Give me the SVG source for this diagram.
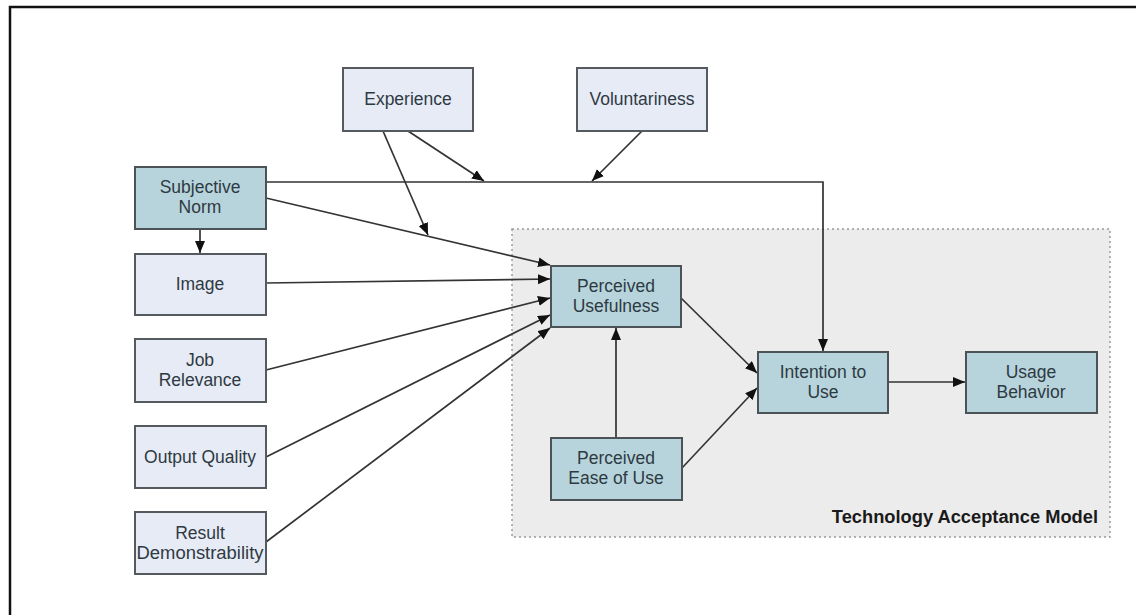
<svg xmlns="http://www.w3.org/2000/svg" width="1136" height="615" viewBox="0 0 1136 615">
  <style>
    .ext rect { fill: #e7ebf6; stroke: #555a5e; stroke-width: 2; }
    .tam rect { fill: #b7d4dc; stroke: #4c5357; stroke-width: 2; }
    text { font-family: "Liberation Sans", Arial, sans-serif; font-size: 17.5px; fill: #2e3a42; text-anchor: middle; }
    .conn line, .conn path { stroke: #333333; stroke-width: 1.7; fill: none; }
    .title { font-weight: bold; font-size: 18.3px; fill: #1a1a1a; text-anchor: end; }
  </style>
  <defs>
    <marker id="arrow" markerUnits="userSpaceOnUse" markerWidth="14" markerHeight="12" refX="12" refY="5" orient="auto">
      <path d="M0,0 L12,5 L0,10 Z" fill="#111"/>
    </marker>
  </defs>

  <rect width="1136" height="615" fill="#ffffff"/>
  <!-- outer frame -->
  <path d="M10,615 V7 H1136" fill="none" stroke="#111" stroke-width="2.5"/>

  <!-- Technology Acceptance Model boundary -->
  <g id="tam-boundary">
    <rect x="512" y="229" width="598" height="308" fill="#ececec" stroke="#9a9a9a" stroke-width="1.5" stroke-dasharray="2,3"/>
    <text class="title" x="1098" y="523">Technology Acceptance Model</text>
  </g>

  <!-- connectors -->
  <g class="conn">
    <line x1="200" y1="229" x2="200" y2="253" marker-end="url(#arrow)"/>
    <path d="M266,182 H823 V351" marker-end="url(#arrow)"/>
    <line x1="408" y1="131" x2="484" y2="181" marker-end="url(#arrow)"/>
    <line x1="642" y1="131" x2="592" y2="181" marker-end="url(#arrow)"/>
    <line x1="383" y1="131" x2="428" y2="235" marker-end="url(#arrow)"/>
    <line x1="266" y1="198" x2="550" y2="265" marker-end="url(#arrow)"/>
    <line x1="266" y1="283" x2="550" y2="279" marker-end="url(#arrow)"/>
    <line x1="266" y1="370" x2="550" y2="298" marker-end="url(#arrow)"/>
    <line x1="266" y1="457" x2="550" y2="315" marker-end="url(#arrow)"/>
    <line x1="266" y1="542" x2="550" y2="328" marker-end="url(#arrow)"/>
    <line x1="616" y1="438" x2="616" y2="328" marker-end="url(#arrow)"/>
    <line x1="681" y1="298" x2="757" y2="373" marker-end="url(#arrow)"/>
    <line x1="682" y1="468" x2="757" y2="388" marker-end="url(#arrow)"/>
    <line x1="888" y1="382" x2="965" y2="382" marker-end="url(#arrow)"/>
  </g>

  <!-- external variables -->
  <g id="experience" class="ext">
    <rect x="343" y="68" width="130" height="63"/>
    <text x="408" y="105">Experience</text>
  </g>
  <g id="voluntariness" class="ext">
    <rect x="577" y="68" width="130" height="63"/>
    <text x="642" y="105">Voluntariness</text>
  </g>
  <g id="subjective-norm" class="tam">
    <rect x="135" y="167" width="131" height="62"/>
    <text x="200" y="193">Subjective</text>
    <text x="200" y="213">Norm</text>
  </g>
  <g id="image" class="ext">
    <rect x="135" y="254" width="131" height="61"/>
    <text x="200" y="290">Image</text>
  </g>
  <g id="job-relevance" class="ext">
    <rect x="135" y="339" width="131" height="63"/>
    <text x="200" y="366">Job</text>
    <text x="200" y="386">Relevance</text>
  </g>
  <g id="output-quality" class="ext">
    <rect x="135" y="426" width="131" height="62"/>
    <text x="200" y="463">Output Quality</text>
  </g>
  <g id="result-demonstrability" class="ext">
    <rect x="135" y="512" width="131" height="62"/>
    <text x="200" y="539">Result</text>
    <text x="200" y="559" textLength="127" lengthAdjust="spacingAndGlyphs">Demonstrability</text>
  </g>

  <!-- model constructs -->
  <g id="perceived-usefulness" class="tam">
    <rect x="551" y="266" width="130" height="61"/>
    <text x="616" y="292">Perceived</text>
    <text x="616" y="312">Usefulness</text>
  </g>
  <g id="perceived-ease-of-use" class="tam">
    <rect x="551" y="438" width="131" height="62"/>
    <text x="616" y="464">Perceived</text>
    <text x="616" y="484">Ease of Use</text>
  </g>
  <g id="intention-to-use" class="tam">
    <rect x="758" y="352" width="130" height="61"/>
    <text x="823" y="378">Intention to</text>
    <text x="823" y="398">Use</text>
  </g>
  <g id="usage-behavior" class="tam">
    <rect x="966" y="352" width="131" height="61"/>
    <text x="1031" y="378">Usage</text>
    <text x="1031" y="398">Behavior</text>
  </g>
</svg>
